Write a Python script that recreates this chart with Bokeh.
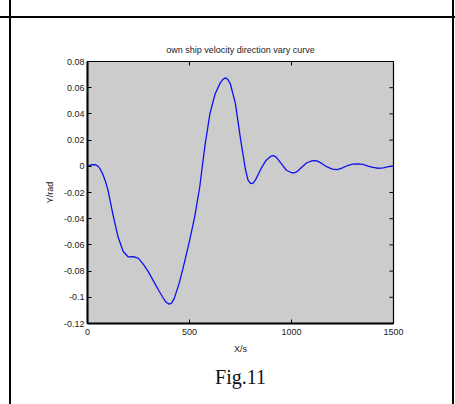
from bokeh.plotting import figure
from bokeh.models import FixedTicker, Range1d, Title
from bokeh.embed import file_html
from bokeh.resources import INLINE

# ---- data ----
time_s = [0, 12, 25, 37, 50, 62, 75, 87, 100, 112, 125, 150, 175, 200, 225, 250,
          275, 300, 325, 350, 375, 387, 400, 412, 425, 450, 475, 500, 525, 550,
          575, 600, 625, 650, 662, 675, 687, 700, 725, 750, 775, 787, 800, 812,
          825, 850, 875, 900, 912, 925, 950, 975, 1000, 1012, 1025, 1050, 1075,
          1100, 1112, 1125, 1150, 1175, 1200, 1225, 1250, 1275, 1300, 1325,
          1350, 1375, 1400, 1425, 1450, 1475, 1500]
angle_rad = [0.000, 0.0008, 0.0013, 0.0012, 0.0004, -0.002, -0.006, -0.011,
             -0.018, -0.027, -0.037, -0.054, -0.065, -0.0692, -0.069, -0.0703,
             -0.075, -0.081, -0.088, -0.095, -0.1015, -0.104, -0.1052, -0.1045,
             -0.101, -0.089, -0.0735, -0.057, -0.039, -0.016, 0.015, 0.040,
             0.055, 0.0635, 0.066, 0.0675, 0.0665, 0.063, 0.048, 0.021, -0.003,
             -0.0105, -0.0132, -0.0128, -0.010, -0.002, 0.0045, 0.0078, 0.0081,
             0.007, 0.002, -0.003, -0.0049, -0.0051, -0.0043, -0.0008, 0.0027,
             0.0042, 0.0044, 0.0041, 0.002, -0.0005, -0.0021, -0.0025, -0.0012,
             0.0006, 0.0016, 0.0018, 0.0014, 0.0002, -0.0009, -0.0015, -0.0012,
             -0.0003, 0.0002]

x_ticks = [0, 500, 1000, 1500]
y_ticks = [-0.12, -0.1, -0.08, -0.06, -0.04, -0.02, 0, 0.02, 0.04, 0.06, 0.08]
y_tick_labels = ["-0.12", "-0.1", "-0.08", "-0.06", "-0.04", "-0.02", "0",
                 "0.02", "0.04", "0.06", "0.08"]

title_text = "own ship velocity direction vary curve"
x_label = "X/s"
y_label = "Y/rad"
caption = "Fig.11"

W, H = 455, 404
BL, BR, BT, BB = 87, 62, 61, 81
FW, FH = W - BL - BR, H - BT - BB
FONT = "Liberation Sans"
FS = "9px"
TICK = 4

x0, x1 = x_ticks[0], x_ticks[-1]
y0, y1 = y_ticks[0], y_ticks[-1]

p = figure(width=W, height=H, output_backend="svg", toolbar_location=None,
           x_range=Range1d(x0, x1), y_range=Range1d(y0, y1),
           min_border_left=BL, min_border_right=BR,
           min_border_top=BT, min_border_bottom=BB,
           background_fill_color="#cccccc", border_fill_color=None,
           outline_line_color="black", outline_line_width=1.2)
# cell borders of the scanned page, painted behind the transparent canvas
p.styles = {
    "background": ("linear-gradient(#000,#000) 9px 0 / 2px 100% no-repeat, "
                   "linear-gradient(#000,#000) 452px 0 / 2px 100% no-repeat, "
                   "linear-gradient(#000,#000) 0 16px / 100% 2px no-repeat, #ffffff"),
}
p.xgrid.visible = False
p.ygrid.visible = False

p.title.text = title_text
p.title.align = "center"
p.title.text_font = FONT
p.title.text_font_size = FS
p.title.text_font_style = "normal"
p.title.text_color = "#222222"
p.title.standoff = 14

for ax in (p.xaxis[0], p.yaxis[0]):
    ax.major_tick_in = TICK
    ax.major_tick_out = 0
    ax.minor_tick_line_color = None
    ax.axis_line_width = 2
    ax.axis_line_color = "black"
    ax.major_tick_line_color = "black"
    ax.major_label_text_font = FONT
    ax.major_label_text_font_size = FS
    ax.major_label_text_color = "#222222"
    ax.axis_label_text_font = FONT
    ax.axis_label_text_font_size = FS
    ax.axis_label_text_font_style = "normal"
    ax.axis_label_text_color = "#222222"

p.xaxis.ticker = FixedTicker(ticks=x_ticks)
p.yaxis.ticker = FixedTicker(ticks=y_ticks)
p.xaxis.major_label_standoff = 5
p.yaxis.major_label_standoff = 3
p.yaxis.major_label_overrides = {v: s for v, s in zip(y_ticks, y_tick_labels)}
p.xaxis.axis_label = x_label
p.yaxis.axis_label = y_label
p.xaxis.axis_label_standoff = 6
p.yaxis.axis_label_standoff = 6

# inward ticks on the top and right edges of the box (MATLAB style)
dx = TICK * (x1 - x0) / FW
dy = TICK * (y1 - y0) / FH
p.segment(x0=x_ticks, y0=[y1] * len(x_ticks), x1=x_ticks,
          y1=[y1 - dy] * len(x_ticks), line_color="black", line_width=1)
p.segment(x0=[x1] * len(y_ticks), y0=y_ticks, x1=[x1 - dx] * len(y_ticks),
          y1=y_ticks, line_color="black", line_width=1)

p.line(time_s, angle_rad, line_color="#1010f0", line_width=1.3)

cap = Title(text=caption, align="center", text_font="Liberation Serif",
            text_font_size="20px", text_font_style="normal",
            text_color="#111111", standoff=15, offset=0)
p.add_layout(cap, "below")

open("out.html", "w").write(file_html(p, INLINE))
